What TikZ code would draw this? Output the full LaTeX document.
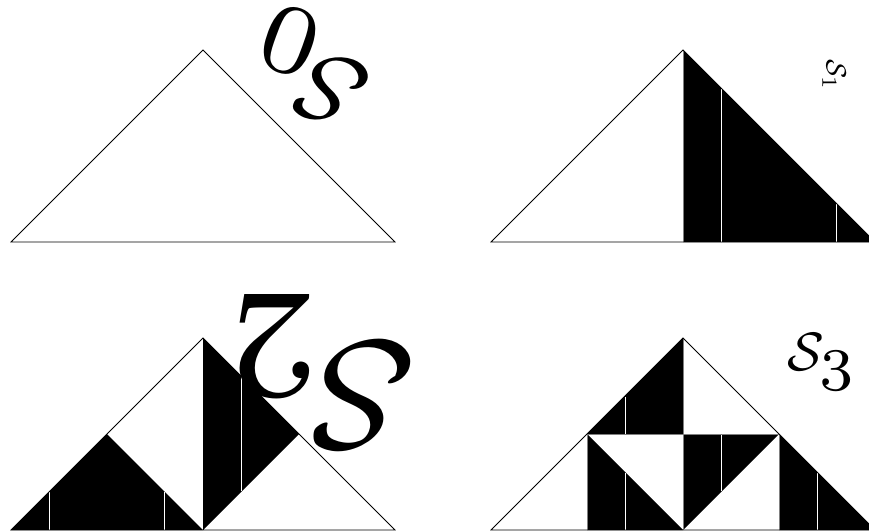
\documentclass[tikz,border=0pt]{standalone}
\newcommand{\bigsub}[2]{\scalebox{#1}{$\scriptstyle #2$}}
\begin{document}
\begin{tikzpicture}[x=1pt,y=-1pt,
  outline/.style={draw=black,line width=0.8pt,line join=miter},
  blk/.style={fill=black},
  seam/.style={draw=white,line width=0.7pt},
  inner/.style={draw=gray,line width=0.7pt},
  lbl/.style={inner sep=0pt}]
\useasboundingbox (0,0) rectangle (869,532);
\clip (0,0) rectangle (869,532);
% ---------- S0 ----------
\coordinate (a0) at (11,242);
\coordinate (b0) at (203,50);
\coordinate (c0) at (395,242);
\draw[outline] (a0) -- (b0) -- (c0) -- cycle;
\node[lbl,rotate=160,scale=9.8] (l0) at (310,66) {$\mathcal{S}_{\bigsub{1.45}{0}}$};
% ---------- S1 ----------
\coordinate (a1) at (491,242);
\coordinate (b1) at (683,50);
\coordinate (c1) at (875,242);
\coordinate (m1) at (683,242);
\fill[blk] (b1) -- (c1) -- (m1) -- cycle;
\draw[seam] (721.4,89.5) -- (721.4,242);
\draw[seam] (836.6,204) -- (836.6,242);
\draw[inner] (b1) -- (m1);
\draw[outline] (a1) -- (b1) -- (c1) -- cycle;
\node[lbl,rotate=-90,scale=2.8] (l1) at (834,75) {$\mathcal{S}_{\bigsub{1.1}{1}}$};
% ---------- S2 ----------
\coordinate (a2) at (11,530);
\coordinate (b2) at (203,338);
\coordinate (c2) at (395,530);
\coordinate (m2) at (203,530);
\coordinate (p2) at (107,434);
\coordinate (q2) at (299,434);
\fill[blk] (a2) -- (p2) -- (m2) -- cycle;
\fill[blk] (b2) -- (q2) -- (m2) -- cycle;
\draw[seam] (49.4,492) -- (49.4,530);
\draw[seam] (164.6,492) -- (164.6,530);
\draw[seam] (241.4,377) -- (241.4,491);
\draw[outline] (b2) -- (m2);
\draw[outline] (a2) -- (b2) -- (c2) -- cycle;
\node[lbl,rotate=180,scale=15.5] (l2) at (318,371) {$\mathcal{S}_{\bigsub{1.45}{2}}$};
% ---------- S3 ----------
\coordinate (a3) at (491,530);
\coordinate (b3) at (683,338);
\coordinate (c3) at (875,530);
\coordinate (p3) at (587,434);
\coordinate (q3) at (779,434);
\coordinate (r3) at (683,434);
\coordinate (s3) at (587,530);
\coordinate (t3) at (683,530);
\coordinate (u3) at (779,530);
\fill[blk] (p3) -- (b3) -- (r3) -- cycle;
\fill[blk] (p3) -- (s3) -- (t3) -- cycle;
\fill[blk] (r3) -- (q3) -- (t3) -- cycle;
\fill[blk] (q3) -- (u3) -- (c3) -- cycle;
\draw[seam] (625.4,397) -- (625.4,434);
\draw[seam] (625.4,473) -- (625.4,530);
\draw[seam] (721.4,434) -- (721.4,491);
\draw[seam] (817.4,473) -- (817.4,530);
\draw[inner] (p3) -- (q3);
\draw[inner] (p3) -- (s3);
\draw[inner] (b3) -- (t3);
\draw[inner] (q3) -- (u3);
\draw[outline] (a3) -- (b3) -- (c3) -- cycle;
\node[lbl,scale=5.4] (l3) at (822,362) {$\mathcal{S}_{\bigsub{1.6}{3}}$};
\end{tikzpicture}
\end{document}
